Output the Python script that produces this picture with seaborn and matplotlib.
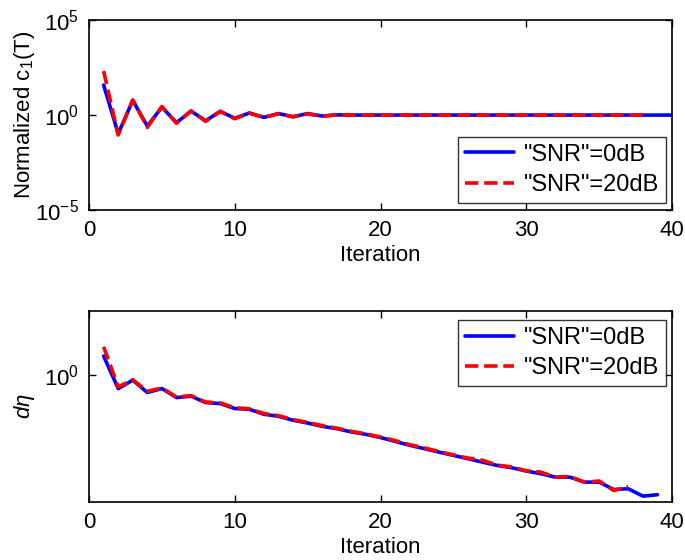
import numpy as np
import pandas as pd
import matplotlib
matplotlib.use("Agg")
import matplotlib.pyplot as plt
import seaborn as sns

# values, as log10 exponents
iters_top_0db = list(range(1, 41))
c1_exp_0db = [1.58, -0.98, 0.77, -0.58, 0.42, -0.40, 0.21, -0.30, 0.20, -0.17,
              0.11, -0.12, 0.08, -0.09, 0.08, -0.05, 0.01, 0.0, 0.0, 0.0,
              0.0, 0.0, 0.0, 0.0, 0.0, 0.0, 0.0, 0.0, 0.0, 0.0,
              0.0, 0.0, 0.0, 0.0, 0.0, 0.0, 0.0, 0.0, 0.0, 0.0]
iters_top_20db = list(range(1, 39))
c1_exp_20db = [2.32, -1.05, 0.80, -0.65, 0.45, -0.43, 0.22, -0.33, 0.19, -0.19,
               0.10, -0.12, 0.07, -0.09, 0.06, -0.06, 0.01, 0.0, 0.0, 0.0,
               0.0, 0.0, 0.0, 0.0, 0.0, 0.0, 0.0, 0.0, 0.0, 0.0,
               0.0, 0.0, 0.0, 0.0, 0.0, 0.0, 0.0, 0.0]

iters_bot_0db = list(range(1, 40))
deta_exp_0db = [0.146, -0.109, -0.043, -0.140, -0.109, -0.180, -0.169, -0.219, -0.227, -0.266,
                -0.272, -0.311, -0.327, -0.358, -0.380, -0.406, -0.424, -0.450, -0.469, -0.494,
                -0.524, -0.555, -0.581, -0.608, -0.634, -0.660, -0.687, -0.713, -0.731, -0.757,
                -0.778, -0.805, -0.805, -0.844, -0.844, -0.902, -0.896, -0.954, -0.943]
iters_bot_20db = list(range(1, 38))
deta_exp_20db = [0.219, -0.095, -0.040, -0.130, -0.105, -0.175, -0.165, -0.215, -0.222, -0.260,
                 -0.268, -0.305, -0.322, -0.353, -0.375, -0.400, -0.420, -0.445, -0.465, -0.490,
                 -0.518, -0.550, -0.575, -0.603, -0.630, -0.655, -0.672, -0.710, -0.725, -0.755,
                 -0.765, -0.805, -0.800, -0.845, -0.835, -0.910, -0.880]

labels = ['"SNR"=0dB', '"SNR"=20dB']
top_ticks = [1e-5, 1e0, 1e5]
top_ticklabels = ['10$^{\\mathregular{-5}}$', '10$^{\\mathregular{0}}$', '10$^{\\mathregular{5}}$']

sns.set_style("ticks")
plt.rcParams['font.family'] = ['Liberation Sans', 'DejaVu Sans']
plt.rcParams['mathtext.fontset'] = 'custom'
plt.rcParams['mathtext.rm'] = 'Liberation Sans'
plt.rcParams['mathtext.it'] = 'Liberation Sans:italic'
for k in ['text.color', 'axes.labelcolor', 'xtick.color', 'ytick.color', 'axes.edgecolor']:
    plt.rcParams[k] = 'black'

fig = plt.figure(figsize=(6.85, 5.6), dpi=100)
ax1 = fig.add_axes([0.130, 0.625, 0.851, 0.339])
ax2 = fig.add_axes([0.130, 0.1036, 0.851, 0.341])

fs = 16
lw = 2.6

# top
sns.lineplot(x=iters_top_0db, y=np.power(10.0, c1_exp_0db), ax=ax1,
             color=(0, 0, 1), lw=lw, label=labels[0])
sns.lineplot(x=iters_top_20db, y=np.power(10.0, c1_exp_20db), ax=ax1,
             color=(1, 0, 0), lw=lw, ls='--', label=labels[1])
ax1.set_yscale('log')
ax1.set_ylim(1e-5, 1e5)
ax1.set_yticks(top_ticks)
ax1.set_yticklabels(top_ticklabels)
ax1.set_ylabel('Normalized c$_\\mathregular{1}$(T)', fontsize=fs)

# bottom
sns.lineplot(x=iters_bot_0db, y=np.power(10.0, deta_exp_0db), ax=ax2,
             color=(0, 0, 1), lw=lw, label=labels[0])
sns.lineplot(x=iters_bot_20db, y=np.power(10.0, deta_exp_20db), ax=ax2,
             color=(1, 0, 0), lw=lw, ls='--', label=labels[1])
ax2.set_yscale('log')
ax2.set_ylim(10 ** -1.0, 10 ** 0.5)
ax2.set_yticks([1e0])
ax2.set_yticklabels(['10$^{\\mathregular{0}}$'])
ax2.set_ylabel(r'$d\eta$', fontsize=fs)

for ax in (ax1, ax2):
    ax.set_xlim(0, 40)
    ax.set_xticks([0, 10, 20, 30, 40])
    ax.set_xlabel('Iteration', fontsize=fs, labelpad=3)
    ax.minorticks_off()
    ax.tick_params(direction='in', top=True, right=True, labelsize=fs,
                   length=5, width=1, pad=7)
    for s in ax.spines.values():
        s.set_linewidth(1.2)
    leg = ax.legend(loc='lower right' if ax is ax1 else 'upper right',
                    fontsize=17, frameon=True, fancybox=False,
                    edgecolor='black', handlelength=2.1, borderpad=0.3,
                    labelspacing=0.35, handletextpad=0.4, borderaxespad=0,
                    bbox_to_anchor=(0.99, 0.037) if ax is ax1 else (0.99, 0.953))
    leg.get_frame().set_linewidth(1.0)

ax1.yaxis.set_label_coords(-0.09, 0.5)
ax2.yaxis.set_label_coords(-0.09, 0.5)

fig.savefig('out.png', dpi=100)
